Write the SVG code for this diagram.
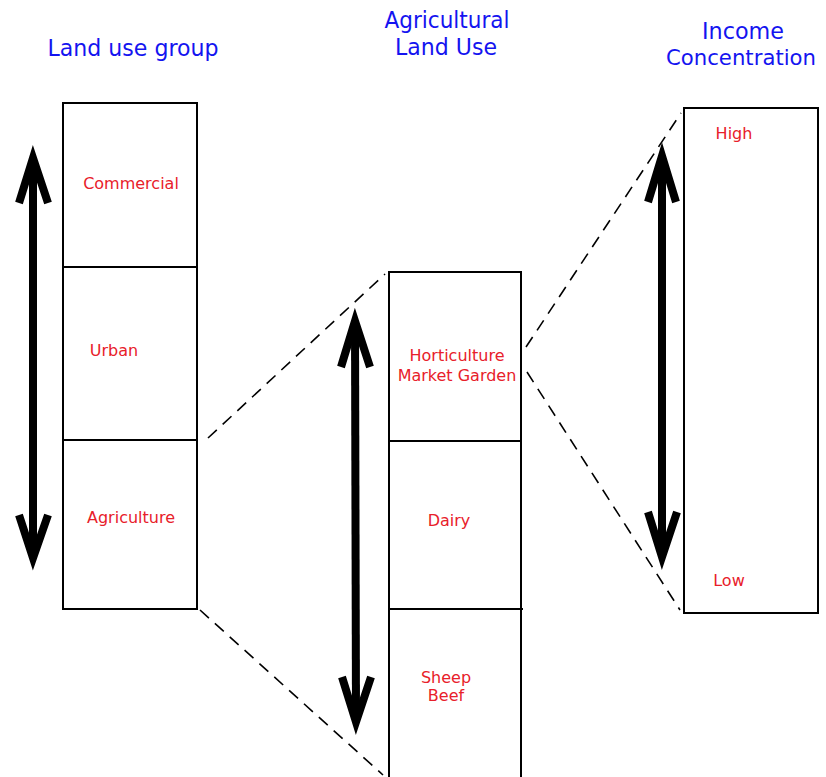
<svg xmlns="http://www.w3.org/2000/svg" width="826" height="777" viewBox="0 0 826 777">
<style>
.box{fill:#fff;stroke:#000;stroke-width:2}
.div{stroke:#000;stroke-width:2}
.lbl{font-family:"DejaVu Sans",sans-serif;font-size:16px;fill:#e8202a;text-anchor:middle}
.ttl{font-family:"DejaVu Sans",sans-serif;font-size:23px;fill:#1414f0;text-anchor:middle}
</style>
<rect width="826" height="777" fill="#fff"/>
<g id="titles">
<text class="ttl" x="133" y="56" textLength="171" lengthAdjust="spacingAndGlyphs">Land use group</text>
<text class="ttl" x="447" y="28" textLength="125" lengthAdjust="spacingAndGlyphs">Agricultural</text>
<text class="ttl" x="446" y="55" textLength="102" lengthAdjust="spacingAndGlyphs">Land Use</text>
<text class="ttl" x="743" y="39" textLength="82" lengthAdjust="spacingAndGlyphs">Income</text>
<text class="ttl" x="741" y="65" style="font-size:22px" textLength="150" lengthAdjust="spacingAndGlyphs">Concentration</text>
</g>
<g id="connectors" fill="none" stroke="#000">
<g stroke-width="1.6" stroke-dasharray="12,8">
<line x1="208" y1="438" x2="385" y2="274"/>
<line x1="200" y1="610" x2="383" y2="775"/>
<line x1="526" y1="347" x2="681" y2="113"/>
<line x1="527" y1="372" x2="680" y2="610"/>
</g>
<g stroke-width="8" stroke-linejoin="miter">
<g id="arrow-left">
<line x1="33" y1="160" x2="33" y2="556"/>
<polyline points="19,203 33,158 48,203"/>
<polyline points="19,515 33,558 48,515"/>
</g>
<g id="arrow-middle">
<line x1="355" y1="323" x2="356" y2="720"/>
<polyline points="341,367 355,321 370,367"/>
<polyline points="342,677 356,722 371,677"/>
</g>
<g id="arrow-right">
<line x1="662" y1="158" x2="662" y2="555"/>
<polyline points="648,202 662,156 676,202"/>
<polyline points="648,512 662,557 677,512"/>
</g>
</g>
</g>
<g id="land-use-group">
<rect class="box" x="63" y="103" width="134" height="506"/>
<line class="div" x1="63" y1="267" x2="197" y2="267"/>
<line class="div" x1="63" y1="440" x2="197" y2="440"/>
<text class="lbl" x="131" y="189">Commercial</text>
<text class="lbl" x="114" y="356">Urban</text>
<text class="lbl" x="131" y="523">Agriculture</text>
</g>
<g id="agricultural-land-use">
<rect class="box" x="389" y="272" width="132" height="510"/>
<line class="div" x1="389" y1="441" x2="521" y2="441"/>
<line class="div" x1="389" y1="609" x2="523" y2="609"/>
<text class="lbl" x="457" y="361">Horticulture</text>
<text class="lbl" x="457" y="381">Market Garden</text>
<text class="lbl" x="449" y="526">Dairy</text>
<text class="lbl" x="446" y="683">Sheep</text>
<text class="lbl" x="446" y="701">Beef</text>
</g>
<g id="income-concentration">
<rect class="box" x="684" y="108" width="134" height="505"/>
<text class="lbl" x="734" y="139">High</text>
<text class="lbl" x="729" y="586">Low</text>
</g>
</svg>
